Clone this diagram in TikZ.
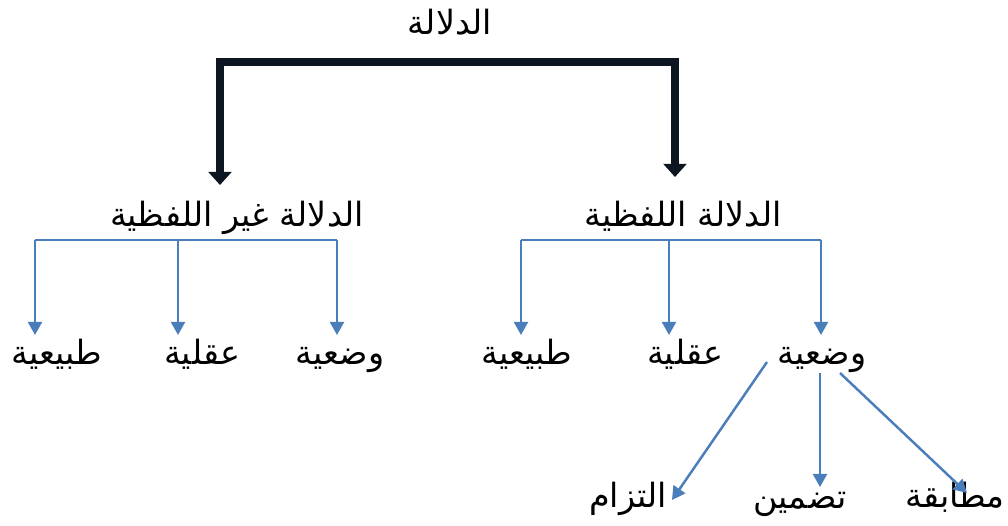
\documentclass[tikz,border=0pt]{standalone}
\usepackage{fontspec}
\newfontfamily\arabicfont[Script=Arabic]{DejaVu Sans}
\TeXXeTstate=1
\usetikzlibrary{arrows.meta}
\usetikzlibrary{calc}
\definecolor{linkblue}{RGB}{74,126,187}
\definecolor{inkblack}{RGB}{13,21,32}
\newcommand{\artext}[1]{\beginR #1\endR}

\begin{document}
\begin{tikzpicture}[x=0.02cm, y=-0.02cm,
        every node/.style={font=\arabicfont\fontsize{19}{22}\selectfont, inner sep=0pt, anchor=base},
        bigarrow/.style={draw=inkblack, line width=5pt, -{Triangle[width=13pt, length=7.5pt]}},
        bluebar/.style={draw=linkblue, line width=1.4pt},
        bluearrow/.style={bluebar, -{Triangle[width=8pt, length=7.5pt]}}]
        \useasboundingbox (0,0) rectangle (1008,525);

        \node (dal) at (450,34) {\artext{الدلالة}};
        \node (glafz) at (237,226) {\artext{الدلالة غير اللفظية}};
        \node (lafz) at (683,226) {\artext{الدلالة اللفظية}};

        \node (gtab) at (57,364) {\artext{طبيعية}};
        \node (gaql) at (202,364) {\artext{عقلية}};
        \node (gwad) at (340,364) {\artext{وضعية}};
        \node (tab) at (527,364) {\artext{طبيعية}};
        \node (aql) at (685,364) {\artext{عقلية}};
        \node (wad) at (822,364) {\artext{وضعية}};

        \node (iltizam) at (628,507) {\artext{التزام}};
        \node (tadammun) at (800,508) {\artext{تضمين}};
        \node (mutabaqa) at (955,507) {\artext{مطابقة}};

        % thick fork under the root
        \coordinate (fork) at (460,62);
        \coordinate (gtip) at (220,185);
        \coordinate (tip) at (675,177);
        \draw[bigarrow] (fork) -| (gtip);
        \draw[bigarrow] (fork) -| (tip);

        % non verbal branch
        \coordinate (gb1) at (35,240);
        \coordinate (gb2) at (178,240);
        \coordinate (gb3) at (337,240);
        \draw[bluebar] (gb1) -- (gb3);
        \draw[bluearrow] (gb1) -- ++(0,95);
        \draw[bluearrow] (gb2) -- ++(0,95);
        \draw[bluearrow] (gb3) -- ++(0,95);

        % verbal branch
        \coordinate (b1) at (521,240);
        \coordinate (b2) at (669,240);
        \coordinate (b3) at (821,240);
        \draw[bluebar] (b1) -- (b3);
        \draw[bluearrow] (b1) -- ++(0,95);
        \draw[bluearrow] (b2) -- ++(0,95);
        \draw[bluearrow] (b3) -- ++(0,95);

        % kinds of the conventional one
        \coordinate (w1) at (767,362);
        \coordinate (w2) at (820,373);
        \coordinate (w3) at (840,373);
        \draw[bluearrow] (w1) -- (672,500);
        \draw[bluearrow] (w2) -- (820,487);
        \draw[bluearrow] (w3) -- (967,493);
\end{tikzpicture}
\end{document}
